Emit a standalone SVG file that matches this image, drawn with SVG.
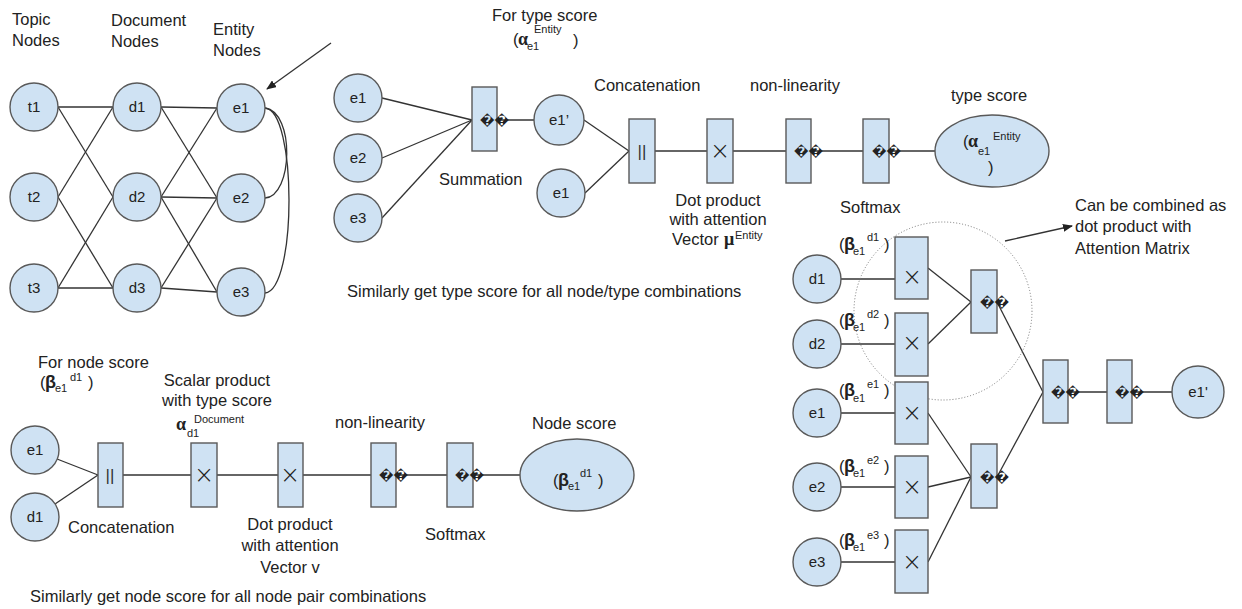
<svg xmlns="http://www.w3.org/2000/svg" width="1242" height="609" viewBox="0 0 1242 609">
<defs>
<style>
text{font-family:"Liberation Sans",Arial,sans-serif;fill:#222;}
.lbl{font-size:16.5px;}
.nl{font-size:15px;text-anchor:middle;}
.n{fill:#cfe2f3;stroke:#595959;stroke-width:1.4;}
.op{fill:#cfe2f3;stroke:#595959;stroke-width:1.4;}
.e{fill:none;stroke:#333;stroke-width:1.3;}
.x{font-family:"DejaVu Sans",sans-serif;font-weight:200;font-size:24px;text-anchor:middle;}
.cc{font-size:17px;text-anchor:middle;fill:#333;}
.q{font-family:"DejaVu Sans",sans-serif;font-size:13px;font-weight:bold;}
.g{font-family:"Liberation Serif",serif;font-weight:bold;font-size:18px;}
.b{font-weight:bold;font-size:18px;}
.s{font-size:11px;}
</style>
<marker id="ah" markerWidth="10" markerHeight="8" refX="9" refY="4" orient="auto" markerUnits="userSpaceOnUse">
<path d="M0,0 L10,4 L0,8 z" fill="#222"/>
</marker>
</defs>
<rect width="1242" height="609" fill="#fff"/>

<!-- connectors -->
<g id="connectors" class="e">
<line x1="58" y1="107" x2="113" y2="107"/>
<line x1="58" y1="107" x2="113" y2="197"/>
<line x1="58" y1="197" x2="113" y2="107"/>
<line x1="58" y1="197" x2="113" y2="288"/>
<line x1="58" y1="288" x2="113" y2="197"/>
<line x1="58" y1="288" x2="113" y2="288"/>
<line x1="161" y1="107" x2="217" y2="108"/>
<line x1="161" y1="107" x2="217" y2="198"/>
<line x1="161" y1="197" x2="217" y2="108"/>
<line x1="161" y1="197" x2="217" y2="198"/>
<line x1="161" y1="197" x2="217" y2="292"/>
<line x1="161" y1="288" x2="217" y2="198"/>
<line x1="161" y1="288" x2="217" y2="292"/>
<path d="M265,108 C295,112 293,196 265,198"/>
<path d="M265,108 C297,110 297,290 265,293"/>
<line x1="331" y1="43" x2="267" y2="89" marker-end="url(#ah)"/>
<line x1="382" y1="98" x2="472" y2="120"/>
<line x1="382" y1="158" x2="472" y2="120"/>
<line x1="382" y1="218" x2="472" y2="120"/>
<line x1="497" y1="120" x2="534" y2="120"/>
<line x1="584" y1="120" x2="629" y2="151"/>
<line x1="585" y1="193" x2="629" y2="151"/>
<line x1="655" y1="151" x2="935" y2="151"/>
<line x1="57" y1="459" x2="98" y2="475"/>
<line x1="55" y1="504" x2="98" y2="475"/>
<line x1="123" y1="475" x2="520" y2="475"/>
<line x1="841" y1="279" x2="895" y2="279"/>
<line x1="841" y1="344" x2="895" y2="344"/>
<line x1="841" y1="413" x2="895" y2="413"/>
<line x1="841" y1="487" x2="895" y2="487"/>
<line x1="841" y1="562" x2="895" y2="562"/>
<line x1="928" y1="268" x2="971" y2="302"/>
<line x1="928" y1="344" x2="971" y2="302"/>
<line x1="928" y1="413" x2="971" y2="477"/>
<line x1="928" y1="487" x2="971" y2="477"/>
<line x1="928" y1="562" x2="971" y2="477"/>
<line x1="997" y1="302" x2="1043" y2="392"/>
<line x1="997" y1="477" x2="1043" y2="392"/>
<line x1="1068" y1="392" x2="1172" y2="392"/>
<circle cx="943" cy="311" r="89" fill="none" stroke="#777" stroke-width="1" stroke-dasharray="1 2"/>
<line x1="1005" y1="241" x2="1072" y2="226" marker-end="url(#ah)"/>
</g>

<!-- left graph labels -->
<text class="lbl" x="12" y="25">Topic</text>
<text class="lbl" x="12" y="46">Nodes</text>
<text class="lbl" x="111" y="26">Document</text>
<text class="lbl" x="111" y="47">Nodes</text>
<text class="lbl" x="213" y="35">Entity</text>
<text class="lbl" x="213" y="56">Nodes</text>

<g id="t1"><circle class="n" cx="34" cy="107" r="24"/><text class="nl" x="34" y="112">t1</text></g>
<g id="t2"><circle class="n" cx="34" cy="197" r="24"/><text class="nl" x="34" y="202">t2</text></g>
<g id="t3"><circle class="n" cx="34" cy="288" r="24"/><text class="nl" x="34" y="293">t3</text></g>
<g id="d1"><circle class="n" cx="137" cy="107" r="24"/><text class="nl" x="137" y="112">d1</text></g>
<g id="d2"><circle class="n" cx="137" cy="197" r="24"/><text class="nl" x="137" y="202">d2</text></g>
<g id="d3"><circle class="n" cx="137" cy="288" r="24"/><text class="nl" x="137" y="293">d3</text></g>
<g id="e1"><circle class="n" cx="241" cy="108" r="24"/><text class="nl" x="241" y="113">e1</text></g>
<g id="e2"><circle class="n" cx="241" cy="198" r="24"/><text class="nl" x="241" y="203">e2</text></g>
<g id="e3"><circle class="n" cx="241" cy="292" r="24"/><text class="nl" x="241" y="297">e3</text></g>

<!-- top chain -->
<text class="lbl" x="492" y="21">For type score</text>
<text class="lbl"><tspan x="513" y="45">(</tspan><tspan class="g" x="518" y="45">α</tspan><tspan class="s" x="527" y="50">e1</tspan><tspan class="s" x="534" y="33">Entity</tspan><tspan x="573" y="46">)</tspan></text>
<g id="te1"><circle class="n" cx="358" cy="98" r="24"/><text class="nl" x="358" y="103">e1</text></g>
<g id="te2"><circle class="n" cx="358" cy="158" r="24"/><text class="nl" x="358" y="163">e2</text></g>
<g id="te3"><circle class="n" cx="358" cy="218" r="24"/><text class="nl" x="358" y="223">e3</text></g>
<g id="tsum"><rect class="op" x="472" y="87" width="25" height="64"/><text class="q" x="480" y="125">��</text></g>
<text class="lbl" x="439" y="185">Summation</text>
<g id="te1p"><circle class="n" cx="559" cy="120" r="25"/><text class="nl" x="559" y="125">e1’</text></g>
<g id="te1b"><circle class="n" cx="561" cy="193" r="24"/><text class="nl" x="561" y="198">e1</text></g>
<text class="lbl" x="594" y="91">Concatenation</text>
<g id="tcat"><rect class="op" x="629" y="119" width="26" height="64"/><text class="cc" x="642" y="157">||</text></g>
<g id="tdot"><rect class="op" x="707" y="119" width="26" height="64"/><text class="x" x="720" y="159">×</text></g>
<text class="lbl" text-anchor="middle" x="718" y="206">Dot product</text>
<text class="lbl" text-anchor="middle" x="718" y="225">with attention</text>
<text class="lbl"><tspan x="672" y="245">Vector</tspan><tspan class="g" x="724" y="245">μ</tspan><tspan class="s" x="735" y="239">Entity</tspan></text>
<text class="lbl" x="750" y="91">non-linearity</text>
<g id="tnl"><rect class="op" x="786" y="119" width="25" height="64"/><text class="q" x="794" y="156">��</text></g>
<g id="tsm"><rect class="op" x="863" y="119" width="26" height="64"/><text class="q" x="872" y="156">��</text></g>
<text class="lbl" x="840" y="213">Softmax</text>
<text class="lbl" x="951" y="101">type score</text>
<g id="ttype"><ellipse class="n" cx="992" cy="151" rx="57" ry="36"/>
<text class="lbl"><tspan x="963" y="147">(</tspan><tspan class="g" x="968" y="147">α</tspan><tspan class="s" x="978" y="155">e1</tspan><tspan class="s" x="993" y="140">Entity</tspan><tspan x="988" y="173">)</tspan></text></g>
<text class="lbl" x="347" y="297">Similarly get type score for all node/type combinations</text>

<!-- bottom chain -->
<text class="lbl" x="38" y="368">For node score</text>
<text class="lbl"><tspan x="40" y="388">(</tspan><tspan class="b" x="45" y="388">β</tspan><tspan class="s" x="55" y="392">e1</tspan><tspan class="s" x="70" y="381">d1</tspan><tspan x="88" y="388">)</tspan></text>
<g id="be1"><circle class="n" cx="35" cy="450" r="24"/><text class="nl" x="35" y="455">e1</text></g>
<g id="bd1"><circle class="n" cx="35" cy="517" r="24"/><text class="nl" x="35" y="522">d1</text></g>
<g id="bcat"><rect class="op" x="98" y="443" width="25" height="64"/><text class="cc" x="110" y="481">||</text></g>
<text class="lbl" x="68" y="533">Concatenation</text>
<text class="lbl" text-anchor="middle" x="217" y="386">Scalar product</text>
<text class="lbl" text-anchor="middle" x="217" y="406">with type score</text>
<text class="lbl"><tspan class="g" x="176" y="430">α</tspan><tspan class="s" x="187" y="437">d1</tspan><tspan class="s" x="194" y="423">Document</tspan></text>
<g id="bsc"><rect class="op" x="191" y="443" width="26" height="64"/><text class="x" x="204" y="483">×</text></g>
<g id="bdot"><rect class="op" x="278" y="443" width="25" height="64"/><text class="x" x="290" y="483">×</text></g>
<text class="lbl" text-anchor="middle" x="290" y="530">Dot product</text>
<text class="lbl" text-anchor="middle" x="290" y="551">with attention</text>
<text class="lbl" text-anchor="middle" x="290" y="573">Vector v</text>
<text class="lbl" x="335" y="428">non-linearity</text>
<g id="bnl"><rect class="op" x="371" y="443" width="25" height="64"/><text class="q" x="379" y="480">��</text></g>
<g id="bsm"><rect class="op" x="447" y="443" width="26" height="64"/><text class="q" x="455" y="480">��</text></g>
<text class="lbl" x="425" y="540">Softmax</text>
<text class="lbl" x="532" y="429">Node score</text>
<g id="bnode"><ellipse class="n" cx="577" cy="475" rx="57" ry="36"/>
<text class="lbl"><tspan x="553" y="486">(</tspan><tspan class="b" x="558" y="486">β</tspan><tspan class="s" x="568" y="490">e1</tspan><tspan class="s" x="580" y="477">d1</tspan><tspan x="598" y="486">)</tspan></text></g>
<text class="lbl" x="30" y="602">Similarly get node score for all node pair combinations</text>

<!-- right diagram -->
<text class="lbl" x="1075" y="211">Can be combined as</text>
<text class="lbl" x="1075" y="232">dot product with</text>
<text class="lbl" x="1075" y="254">Attention Matrix</text>

<text class="lbl"><tspan x="839" y="250">(</tspan><tspan class="b" x="844" y="250">β</tspan><tspan class="s" x="853" y="255">e1</tspan><tspan class="s" x="867" y="241">d1</tspan><tspan x="884" y="250">)</tspan></text>
<text class="lbl"><tspan x="839" y="326">(</tspan><tspan class="b" x="844" y="326">β</tspan><tspan class="s" x="853" y="331">e1</tspan><tspan class="s" x="867" y="318">d2</tspan><tspan x="884" y="326">)</tspan></text>
<text class="lbl"><tspan x="839" y="396">(</tspan><tspan class="b" x="844" y="396">β</tspan><tspan class="s" x="853" y="402">e1</tspan><tspan class="s" x="867" y="388">e1</tspan><tspan x="884" y="396">)</tspan></text>
<text class="lbl"><tspan x="839" y="472">(</tspan><tspan class="b" x="844" y="472">β</tspan><tspan class="s" x="853" y="477">e1</tspan><tspan class="s" x="867" y="464">e2</tspan><tspan x="884" y="472">)</tspan></text>
<text class="lbl"><tspan x="839" y="546">(</tspan><tspan class="b" x="844" y="546">β</tspan><tspan class="s" x="853" y="551">e1</tspan><tspan class="s" x="867" y="539">e3</tspan><tspan x="884" y="546">)</tspan></text>

<g id="rd1"><circle class="n" cx="817" cy="279" r="24"/><text class="nl" x="817" y="284">d1</text></g>
<g id="rd2"><circle class="n" cx="817" cy="344" r="24"/><text class="nl" x="817" y="349">d2</text></g>
<g id="re1"><circle class="n" cx="817" cy="413" r="24"/><text class="nl" x="817" y="418">e1</text></g>
<g id="re2"><circle class="n" cx="817" cy="487" r="24"/><text class="nl" x="817" y="492">e2</text></g>
<g id="re3"><circle class="n" cx="817" cy="562" r="24"/><text class="nl" x="817" y="567">e3</text></g>
<g id="rx1"><rect class="op" x="895" y="237" width="33" height="62"/><text class="x" x="912" y="285">×</text></g>
<g id="rx2"><rect class="op" x="895" y="313" width="33" height="63"/><text class="x" x="912" y="351">×</text></g>
<g id="rx3"><rect class="op" x="895" y="382" width="33" height="62"/><text class="x" x="912" y="421">×</text></g>
<g id="rx4"><rect class="op" x="895" y="456" width="33" height="62"/><text class="x" x="912" y="495">×</text></g>
<g id="rx5"><rect class="op" x="895" y="530" width="33" height="63"/><text class="x" x="912" y="570">×</text></g>
<g id="rs1"><rect class="op" x="971" y="270" width="26" height="63"/><text class="q" x="980" y="307">��</text></g>
<g id="rs2"><rect class="op" x="971" y="444" width="26" height="64"/><text class="q" x="980" y="482">��</text></g>
<g id="rs3"><rect class="op" x="1043" y="360" width="25" height="63"/><text class="q" x="1051" y="397">��</text></g>
<g id="rs4"><rect class="op" x="1107" y="360" width="25" height="63"/><text class="q" x="1115" y="397">��</text></g>
<g id="re1p"><circle class="n" cx="1198" cy="392" r="26"/><text class="nl" x="1198" y="397">e1'</text></g>
</svg>
